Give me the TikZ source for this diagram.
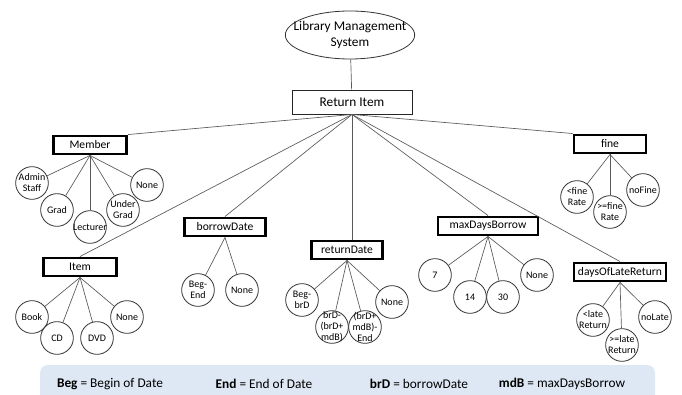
\documentclass[tikz,border=0pt]{standalone}
\usepackage{fontspec}
\setmainfont{Carlito}
\usetikzlibrary{shapes.geometric}

\definecolor{keyblue}{HTML}{DEE8F4}

\begin{document}
\begin{tikzpicture}[x=0.75pt,y=-0.75pt,
  link/.style={draw=black!65,line width=0.5pt},
  top/.style={ellipse,draw=black!80,line width=0.6pt,minimum width=97pt,minimum height=36pt,inner sep=0pt},
  toplbl/.style={align=center,inner sep=0pt,font=\fontsize{10}{12}\selectfont},
  main/.style={draw=black!85,line width=0.7pt,minimum width=90pt,minimum height=18pt,font=\fontsize{10}{12}\selectfont},
  cat/.style={draw,line width=2.2pt,minimum height=13.5pt,inner sep=2pt,font=\fontsize{8.7}{10}\selectfont},
  leaf/.style={circle,draw=black!80,line width=0.6pt,minimum size=24.5pt,inner sep=0pt,
    label={[leaflbl]center:#1}},
  leaflbl/.style={align=center,inner sep=0pt,font=\fontsize{7.5}{8.3}\selectfont},
  key/.style={font=\fontsize{10}{12}\selectfont,inner sep=0pt}]
\useasboundingbox (0,0) rectangle (682,395);

% legend strip at the foot
\fill[keyblue,rounded corners=6pt] (40,365) rectangle (655,420);
\node[key] (k1) at (110,384) {\textbf{Beg} = Begin of Date};
\node[key] (k2) at (264,384) {\textbf{End} = End of Date};
\node[key] (k3) at (419,384) {\textbf{brD} = borrowDate};
\node[key] (k4) at (562,384) {\textbf{mdB} = maxDaysBorrow};

\node[top,label={[toplbl]center:Library Management\\System}] (lms) at (350,35) {};
\node[main] (ret) at (352,102) {Return Item};

\node[cat,minimum width=55pt] (member) at (90,145) {Member};
\node[cat,minimum width=55pt] (item) at (80,267) {Item};
\node[cat,minimum width=61pt] (bdate) at (225,227) {borrowDate};
\node[cat,minimum width=53pt] (rdate) at (347,250) {returnDate};
\node[cat,minimum width=75pt] (mdays) at (488,226) {maxDaysBorrow};
\node[cat,minimum width=54pt] (fine) at (610,144) {fine};
\node[cat,minimum width=69pt] (late) at (620,272) {daysOfLateReturn};

% member
\node[leaf={Admin\\Staff}] (m1) at (32,183) {};
\node[leaf={Grad}] (m2) at (57,210) {};
\node[leaf={Lecturer}] (m3) at (90,227) {};
\node[leaf={Under\\Grad}] (m4) at (123,210) {};
\node[leaf={None}] (m5) at (147,185) {};
% item
\node[leaf={Book}] (i1) at (32,317) {};
\node[leaf={CD}] (i2) at (57,338) {};
\node[leaf={DVD}] (i3) at (97,338) {};
\node[leaf={None}] (i4) at (127,317) {};
% borrowDate
\node[leaf={Beg-\\End}] (b1) at (198,290) {};
\node[leaf={None}] (b2) at (242,290) {};
% returnDate
\node[leaf={Beg-\\brD}] (r1) at (302,300) {};
\node[leaf={brD-\\(brD+\\mdB)}] (r2) at (332,327) {};
\node[leaf={(brD+\\mdB)-\\End}] (r3) at (365,327) {};
\node[leaf={None}] (r4) at (392,302) {};
% maxDaysBorrow
\node[leaf={7}] (d1) at (435,275) {};
\node[leaf={14}] (d2) at (470,297) {};
\node[leaf={30}] (d3) at (503,297) {};
\node[leaf={None}] (d4) at (537,275) {};
% fine
\node[leaf={<fine\\Rate}] (f1) at (577,197) {};
\node[leaf={>=fine\\Rate}] (f2) at (610,212) {};
\node[leaf={noFine}] (f3) at (643,190) {};
% daysOfLateReturn
\node[leaf={<late\\Return}] (l1) at (593,320) {};
\node[leaf={>=late\\Return}] (l2) at (622,345) {};
\node[leaf={noLate}] (l3) at (655,317) {};

\draw[link] (lms) -- (ret);
\draw[link] (ret.south) -- (member.north east);
\draw[link] (ret.south) -- (item.north);
\draw[link] (ret.south) -- (bdate.north);
\draw[link] (ret.south) -- (ret.south |- rdate.north);
\draw[link] (ret.south) -- (mdays.north);
\draw[link] (ret.south) -- (late.north);
\draw[link] (ret.south) -- (fine.north west);

\foreach \c in {m1,m2,m3,m4,m5} \draw[link] (member.south) -- (\c);
\foreach \c in {i1,i2,i3,i4} \draw[link] (item.south) -- (\c);
\foreach \c in {b1,b2} \draw[link] (bdate.south) -- (\c);
\foreach \c in {r1,r2,r3,r4} \draw[link] (rdate.south) -- (\c);
\foreach \c in {d1,d2,d3,d4} \draw[link] (mdays.south) -- (\c);
\foreach \c in {f1,f2,f3} \draw[link] (fine.south) -- (\c);
\foreach \c in {l1,l2,l3} \draw[link] (late.south) -- (\c);
    %
\end{tikzpicture}
\end{document}
